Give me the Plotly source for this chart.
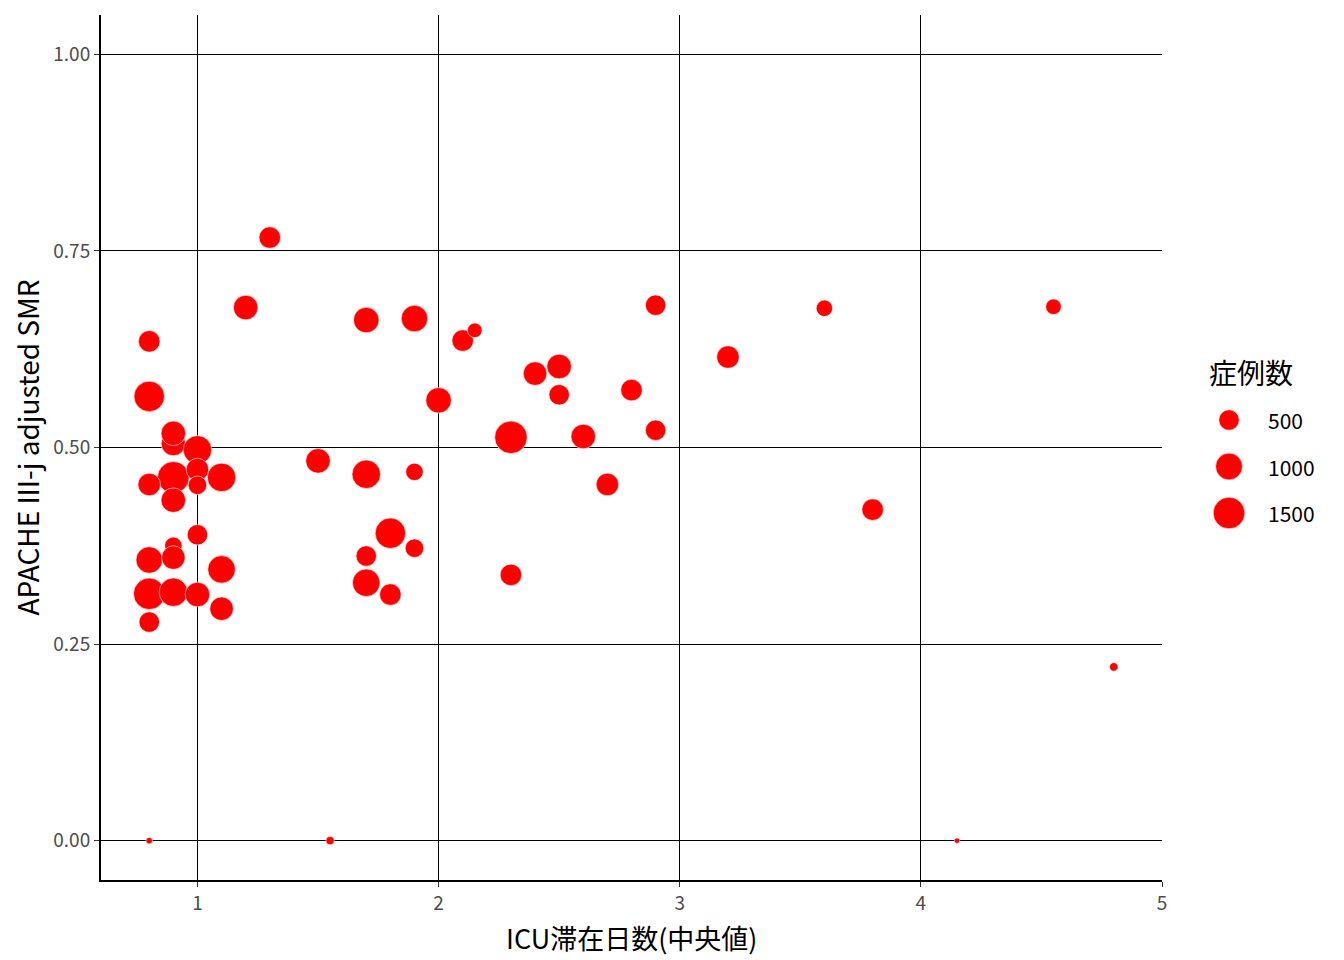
import numpy as np
import plotly.graph_objects as go

# ---- data ----
icu_days = [0.8, 0.8, 0.9, 0.9, 1.0, 0.9, 1.0, 1.1, 0.8, 1.0, 0.9, 1.0, 0.9, 0.8, 0.9, 1.1,
            0.8, 0.9, 1.0, 1.1, 0.8, 1.3, 1.2,
            1.7, 1.9, 2.1, 2.15, 2.0, 1.5, 1.7, 1.9, 1.8, 1.9, 1.7, 1.7, 1.8,
            2.9, 2.4, 2.5, 2.5, 2.8, 2.9, 2.3, 2.6, 2.7, 2.3, 3.6, 3.2, 3.8, 4.55, 4.8,
            0.8, 1.55, 4.15]
smr = [0.635, 0.565, 0.505, 0.518, 0.497, 0.462, 0.472, 0.462, 0.453, 0.452, 0.433, 0.389,
       0.375, 0.357, 0.360, 0.345, 0.314, 0.316, 0.313, 0.295, 0.278, 0.767, 0.678,
       0.662, 0.664, 0.636, 0.649, 0.560, 0.483, 0.466, 0.469, 0.391, 0.372, 0.362, 0.328, 0.313,
       0.681, 0.594, 0.603, 0.567, 0.573, 0.522, 0.513, 0.514, 0.453, 0.338, 0.677, 0.615,
       0.421, 0.679, 0.221, 0.0, 0.0, 0.0]
cases = [570, 1370, 780, 800, 1160, 1500, 640, 1160, 640, 380, 800, 500, 320, 970, 720, 1070,
         1480, 1160, 800, 720, 500, 570, 800,
         880, 970, 570, 190, 880, 800, 1160, 320, 1370, 380, 500, 1070, 570,
         500, 720, 800, 500, 570, 500, 1600, 800, 640, 570, 270, 640, 570, 230, 30,
         12, 25, 10]

x_ticks = [1, 2, 3, 4, 5]
y_ticks = [0.0, 0.25, 0.50, 0.75, 1.00]
legend_breaks = [500, 1000, 1500]

x_title = "ICU滞在日数(中央値)"
y_title = "APACHE III-j adjusted SMR"
legend_title = "症例数"

# ---- size scale (area scale, like ggplot scale_size) ----
vmin, vmax = min(cases), max(cases)
D_MIN, D_MAX = 5.5, 32.5


def size_of(v):
    v = np.asarray(v, dtype=float)
    return D_MIN + (D_MAX - D_MIN) * np.sqrt(np.clip((v - vmin) / (vmax - vmin), 0, 1))


FONT = "Noto Sans CJK JP"
OFF = 8  # page body margin
W, H = 1330, 948
ML = 101 - OFF
MT = 15 - OFF
plot_bottom = 880 - OFF
MB = H - plot_bottom
MR = 0
plot_w = W - ML - MR
plot_h = H - MT - MB
main_right = 1162 - OFF
x_dom_end = (main_right - ML) / plot_w

fig = go.Figure()

fig.add_trace(go.Scatter(
    x=icu_days, y=smr, mode="markers",
    marker=dict(size=size_of(cases), color="#FF0000", opacity=1,
                line=dict(color="white", width=0.6)),
    showlegend=False, hoverinfo="x+y+text", text=[str(c) for c in cases],
))

# ---- manual size legend on an auxiliary axis ----
leg_x0, leg_x1 = 1190 - OFF, 1330 - OFF
leg_dom = [(leg_x0 - ML) / plot_w, (leg_x1 - ML) / plot_w]
span = leg_x1 - leg_x0
circle_x = (1229 - OFF - leg_x0) / span
label_x = (1266 - OFF - leg_x0) / span
title_x = (1207 - OFF - leg_x0) / span
first_row, row_step = 420 - OFF, 46.5
row_y = [plot_bottom - (first_row + i * row_step) for i in range(len(legend_breaks))]

fig.add_trace(go.Scatter(
    x=[circle_x] * len(legend_breaks), y=row_y, mode="markers",
    marker=dict(size=size_of(legend_breaks), color="#FF0000", opacity=1,
                line=dict(color="white", width=0.6)),
    xaxis="x2", yaxis="y2", showlegend=False, hoverinfo="skip",
))

annotations = []
for b, yy in zip(legend_breaks, row_y):
    annotations.append(dict(
        x=label_x, y=yy, xref="x2", yref="y2", text=str(b), showarrow=False,
        xanchor="left", yanchor="middle", font=dict(family=FONT, size=21, color="black")))
annotations.append(dict(
    x=title_x, y=plot_bottom - (372 - OFF), xref="x2", yref="y2",
    text=legend_title, showarrow=False, xanchor="left", yanchor="middle",
    font=dict(family=FONT, size=28, color="black")))

# axis titles
annotations.append(dict(
    x=0.5, y=(plot_bottom - (937 - OFF)) / plot_h, xref="x domain", yref="paper", text=x_title,
    showarrow=False, xanchor="center", yanchor="middle",
    font=dict(family=FONT, size=27, color="black")))
annotations.append(dict(
    x=(26 - OFF - ML) / plot_w, y=0.5, xref="paper", yref="paper", text=y_title,
    showarrow=False, xanchor="center", yanchor="middle", textangle=-90,
    font=dict(family=FONT, size=28, color="black")))

axis_common = dict(
    showgrid=True, gridcolor="black", gridwidth=1, zeroline=False,
    showline=True, linecolor="black", linewidth=2, automargin=False,
    ticks="outside", ticklen=5, tickwidth=1, tickcolor="#333333",
    tickfont=dict(family=FONT, size=19, color="#4D4D4D"),
)

fig.update_layout(
    width=W, height=H, autosize=False,
    margin=dict(l=ML, r=MR, t=MT, b=MB, pad=0),
    paper_bgcolor="white", plot_bgcolor="white",
    xaxis=dict(domain=[0, x_dom_end], range=[0.6, 5.0], tickvals=x_ticks,
               ticktext=[str(t) for t in x_ticks], **axis_common),
    yaxis=dict(domain=[0, 1], range=[-0.05, 1.05], tickvals=y_ticks, tickformat=".2f",
               **axis_common),
    xaxis2=dict(domain=leg_dom, range=[0, 1], visible=False, anchor="y2", fixedrange=True,
                automargin=False),
    yaxis2=dict(domain=[0, 1], range=[0, plot_h], visible=False, anchor="x2", fixedrange=True,
                automargin=False),
    annotations=annotations,
    showlegend=False,
)

fig.write_html("out.html")
